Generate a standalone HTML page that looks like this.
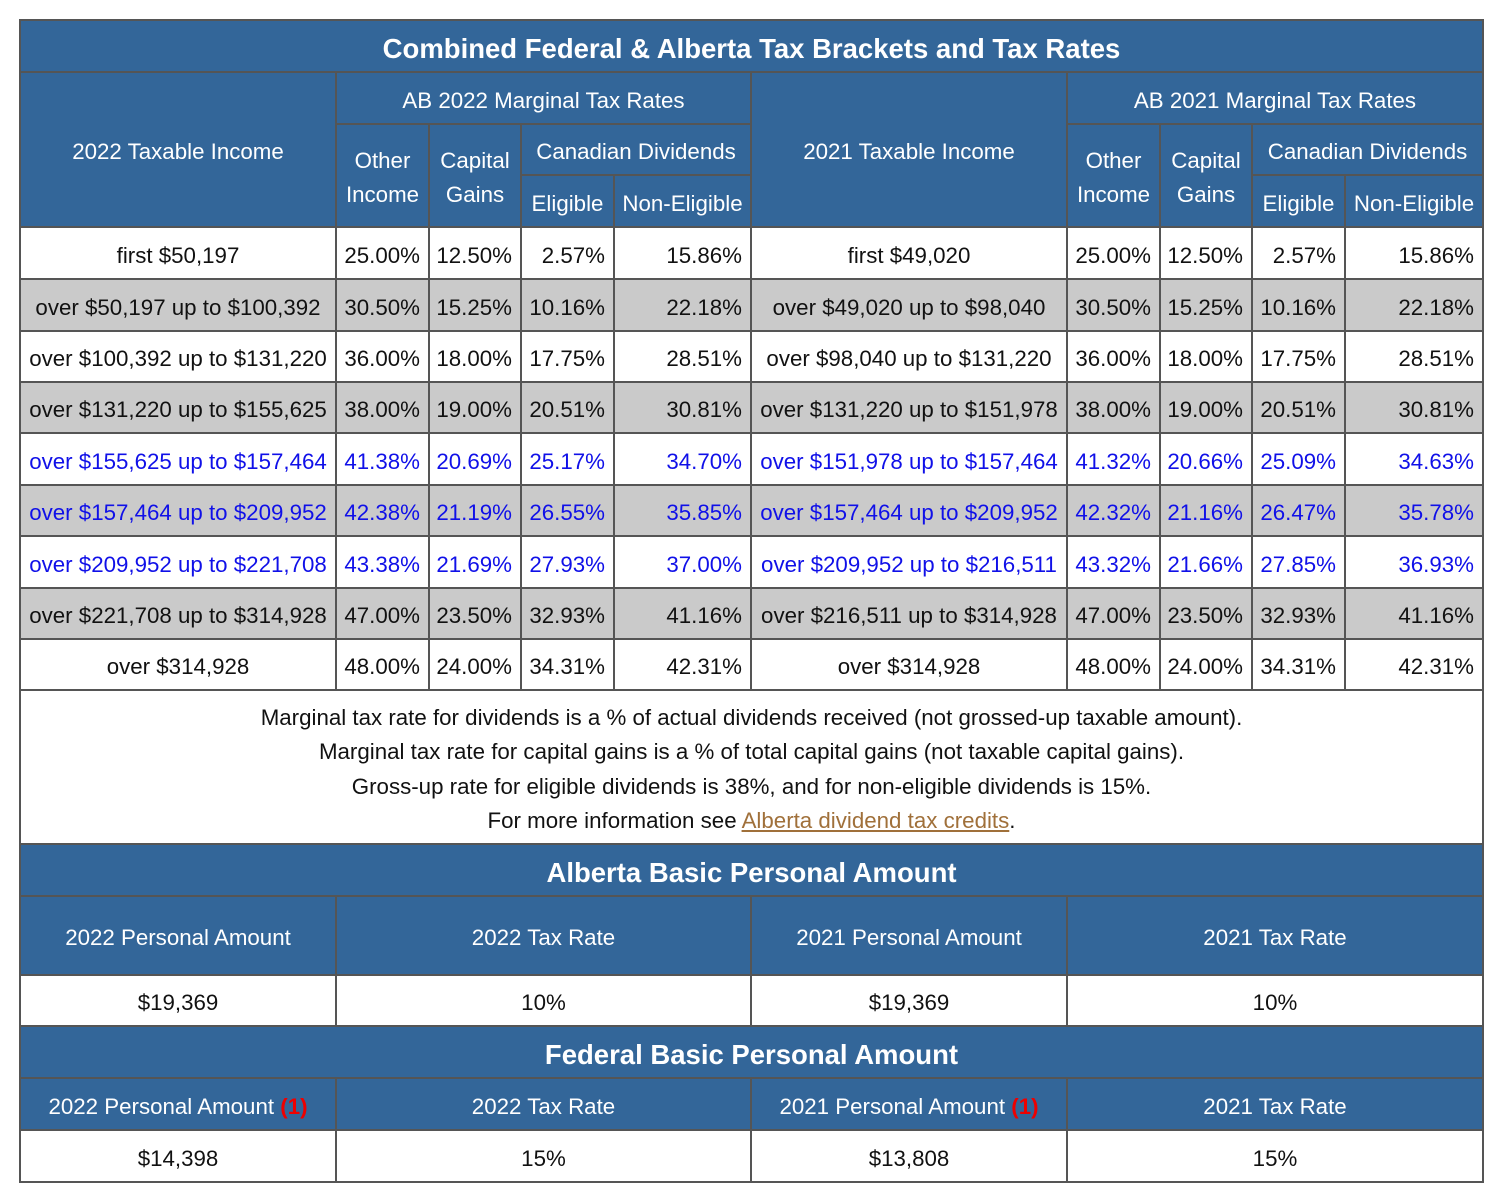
<!DOCTYPE html>
<html><head><meta charset="utf-8">
<style>
body{margin:0;background:#fff;width:1500px;height:1196px;position:relative;font-family:"Liberation Sans",Arial,sans-serif;overflow:hidden}
#tbl{position:absolute;left:19px;top:19px;width:1465px;height:1164px;background:#555}
.c{position:absolute;box-sizing:border-box;display:flex;align-items:center;justify-content:center;text-align:center;font-size:22.3px;color:#111;white-space:nowrap;line-height:34px;padding-top:5px}
.h{background:#336699;color:#fff}
.w{background:#fff}
.g{background:#cacaca}
.r{justify-content:flex-end;padding-right:8px}
.blue{color:#1010e8}
.t{font-weight:bold;font-size:27.5px}
a{color:#a0703a}
.red{color:#e00;font-weight:bold}
</style></head><body>
<div id="tbl"></div>
<script>
const colX=[20,336,429,521,614,751,1067,1160,1252,1345,1483];
const rowY=[227,279,331,382,433,485,536,588,639,690];
const income22=["first $50,197","over $50,197 up to $100,392","over $100,392 up to $131,220","over $131,220 up to $155,625","over $155,625 up to $157,464","over $157,464 up to $209,952","over $209,952 up to $221,708","over $221,708 up to $314,928","over $314,928"];
const rates22=[["25.00%","12.50%","2.57%","15.86%"],["30.50%","15.25%","10.16%","22.18%"],["36.00%","18.00%","17.75%","28.51%"],["38.00%","19.00%","20.51%","30.81%"],["41.38%","20.69%","25.17%","34.70%"],["42.38%","21.19%","26.55%","35.85%"],["43.38%","21.69%","27.93%","37.00%"],["47.00%","23.50%","32.93%","41.16%"],["48.00%","24.00%","34.31%","42.31%"]];
const income21=["first $49,020","over $49,020 up to $98,040","over $98,040 up to $131,220","over $131,220 up to $151,978","over $151,978 up to $157,464","over $157,464 up to $209,952","over $209,952 up to $216,511","over $216,511 up to $314,928","over $314,928"];
const rates21=[["25.00%","12.50%","2.57%","15.86%"],["30.50%","15.25%","10.16%","22.18%"],["36.00%","18.00%","17.75%","28.51%"],["38.00%","19.00%","20.51%","30.81%"],["41.32%","20.66%","25.09%","34.63%"],["42.32%","21.16%","26.47%","35.78%"],["43.32%","21.66%","27.85%","36.93%"],["47.00%","23.50%","32.93%","41.16%"],["48.00%","24.00%","34.31%","42.31%"]];
const tbl=document.getElementById('tbl');
function cell(x1,y1,x2,y2,cls,html,name){
  const d=document.createElement('div');
  d.className='c '+cls;
  d.style.left=(x1-19+1)+'px';d.style.top=(y1-19+1)+'px';
  d.style.width=(x2-x1-2)+'px';d.style.height=(y2-y1-2)+'px';
  d.innerHTML=html;
  
  
  tbl.appendChild(d);return d;
}
cell(20,20,1483,72,'h t','Combined Federal &amp; Alberta Tax Brackets and Tax Rates','table-title');
for(let s=0;s<2;s++){
  const o=s*5, yr=s?'2021':'2022';
  cell(colX[o],72,colX[o+1],227,'h',yr+' Taxable Income','taxable-income-header');
  cell(colX[o+1],72,colX[o+5],124,'h','AB '+yr+' Marginal Tax Rates','marginal-rates-header');
  cell(colX[o+1],124,colX[o+2],227,'h','Other<br>Income','other-income-header');
  cell(colX[o+2],124,colX[o+3],227,'h','Capital<br>Gains','capital-gains-header');
  cell(colX[o+3],124,colX[o+5],175,'h','Canadian Dividends','dividends-header');
  cell(colX[o+3],175,colX[o+4],227,'h','Eligible','eligible-header');
  cell(colX[o+4],175,colX[o+5],227,'h','Non-Eligible','non-eligible-header');
}
for(let i=0;i<income22.length;i++){
  const bg=(i%2?'g':'w')+((i>=4&&i<=6)?' blue':'');
  [[income22,rates22,0],[income21,rates21,5]].forEach(([inc,rt,o])=>{
    cell(colX[o],rowY[i],colX[o+1],rowY[i+1],bg,inc[i],'income-bracket');
    for(let j=0;j<4;j++) cell(colX[o+1+j],rowY[i],colX[o+2+j],rowY[i+1],bg+' r',rt[i][j],'rate-cell');
  });
}
const n=cell(20,690,1483,844,'w','<div>Marginal tax rate for dividends is a % of actual dividends received (not grossed-up taxable amount).<br>Marginal tax rate for capital gains is a % of total capital gains (not taxable capital gains).<br>Gross-up rate for eligible dividends is 38%, and for non-eligible dividends is 15%.<br>For more information see <a href="#">Alberta dividend tax credits</a>.</div>','notes');
n.style.lineHeight='34.5px';
cell(20,844,1483,896,'h t','Alberta Basic Personal Amount','ab-bpa-title');
const bx=[20,336,751,1067,1483];
const bpaHead=['2022 Personal Amount','2022 Tax Rate','2021 Personal Amount','2021 Tax Rate'];
const abVals=['$19,369','10%','$19,369','10%'];
const fedVals=['$14,398','15%','$13,808','15%'];
for(let j=0;j<4;j++){
  cell(bx[j],896,bx[j+1],975,'h',bpaHead[j],'ab-bpa-header');
  cell(bx[j],975,bx[j+1],1026,'w',abVals[j],'ab-bpa-value');
}
cell(20,1026,1483,1078,'h t','Federal Basic Personal Amount','fed-bpa-title');
for(let j=0;j<4;j++){
  cell(bx[j],1078,bx[j+1],1130,'h',bpaHead[j]+(j%2?'':'&nbsp;<span class="red">(1)</span>'),'fed-bpa-header');
  cell(bx[j],1130,bx[j+1],1182,'w',fedVals[j],'fed-bpa-value');
}
</script>
</body></html>
